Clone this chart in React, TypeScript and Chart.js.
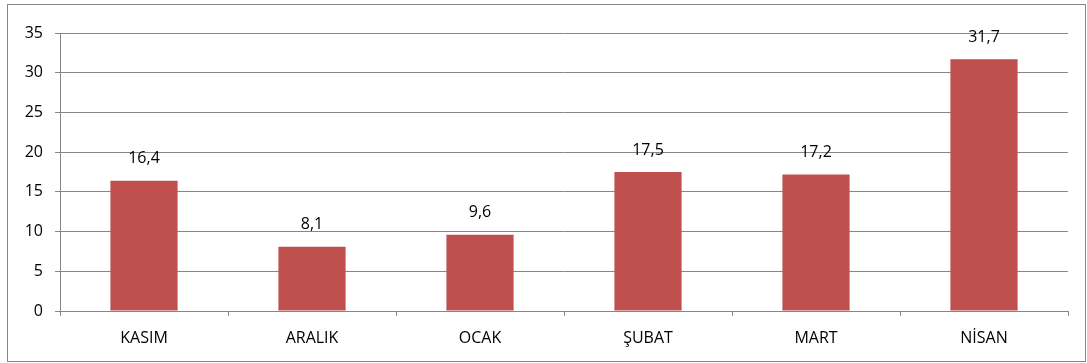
import React, { useEffect, useRef } from "react";
import { Chart, registerables } from "chart.js";

Chart.register(...registerables);

const categories = ["KASIM", "ARALIK", "OCAK", "ŞUBAT", "MART", "NİSAN"];
const values = [16.4, 8.1, 9.6, 17.5, 17.2, 31.7];
const yMin = 0;
const yMax = 35;
const yStep = 5;

const FONT = "'Open Sans', 'Liberation Sans', sans-serif";
const GRID = "#868686";

const frameAndLabels = {
  id: "frameAndLabels",
  afterDatasetsDraw(chart: any) {
    const ctx = chart.ctx;
    const meta = chart.getDatasetMeta(0);
    ctx.save();
    ctx.fillStyle = "#000000";
    ctx.font = `16px ${FONT}`;
    ctx.textAlign = "center";
    ctx.textBaseline = "alphabetic";
    meta.data.forEach((bar: any, i: number) => {
      const txt = String(values[i]).replace(".", ",");
      ctx.fillText(txt, bar.x, bar.y - 17.5);
    });
    ctx.restore();
  },
  afterDraw(chart: any) {
    const ctx = chart.ctx;
    ctx.save();
    ctx.strokeStyle = GRID;
    ctx.lineWidth = 1;
    ctx.strokeRect(7.5, 4.5, 1078, 357);
    ctx.restore();
  },
};

export default function App() {
  const ref = useRef<HTMLCanvasElement | null>(null);
  useEffect(() => {
    document.body.style.margin = "0";
    const chart = new Chart(ref.current as HTMLCanvasElement, {
      type: "bar",
      data: {
        labels: categories,
        datasets: [
          {
            data: values,
            backgroundColor: "#C0504D",
            borderWidth: 0,
            categoryPercentage: 1,
            barPercentage: 0.4,
          },
        ],
      },
      options: {
        animation: false,
        responsive: false,
        maintainAspectRatio: false,
        layout: { padding: { left: 0, right: 19, top: 33, bottom: 0 } },
        plugins: { legend: { display: false }, tooltip: { enabled: false } },
        scales: {
          x: {
            offset: true,
            grid: {
              offset: true,
              drawOnChartArea: false,
              color: GRID,
              tickLength: 5,
            },
            border: { color: GRID },
            ticks: {
              color: "#000000",
              font: { family: FONT, size: 16 },
              padding: 13,
              maxRotation: 0,
            },
            afterFit(s: any) {
              s.height = 52;
            },
          },
          y: {
            min: yMin,
            max: yMax,
            grid: { color: GRID, tickLength: 5 },
            border: { color: GRID },
            ticks: {
              stepSize: yStep,
              color: "#000000",
              font: { family: FONT, size: 16 },
              padding: 12,
            },
            afterFit(s: any) {
              s.width = 60;
            },
          },
        },
      },
      plugins: [frameAndLabels],
    });
    return () => chart.destroy();
  }, []);
  return (
    <div style={{ width: 1087, height: 363 }}>
      <canvas ref={ref} width={1087} height={363} />
    </div>
  );
}
